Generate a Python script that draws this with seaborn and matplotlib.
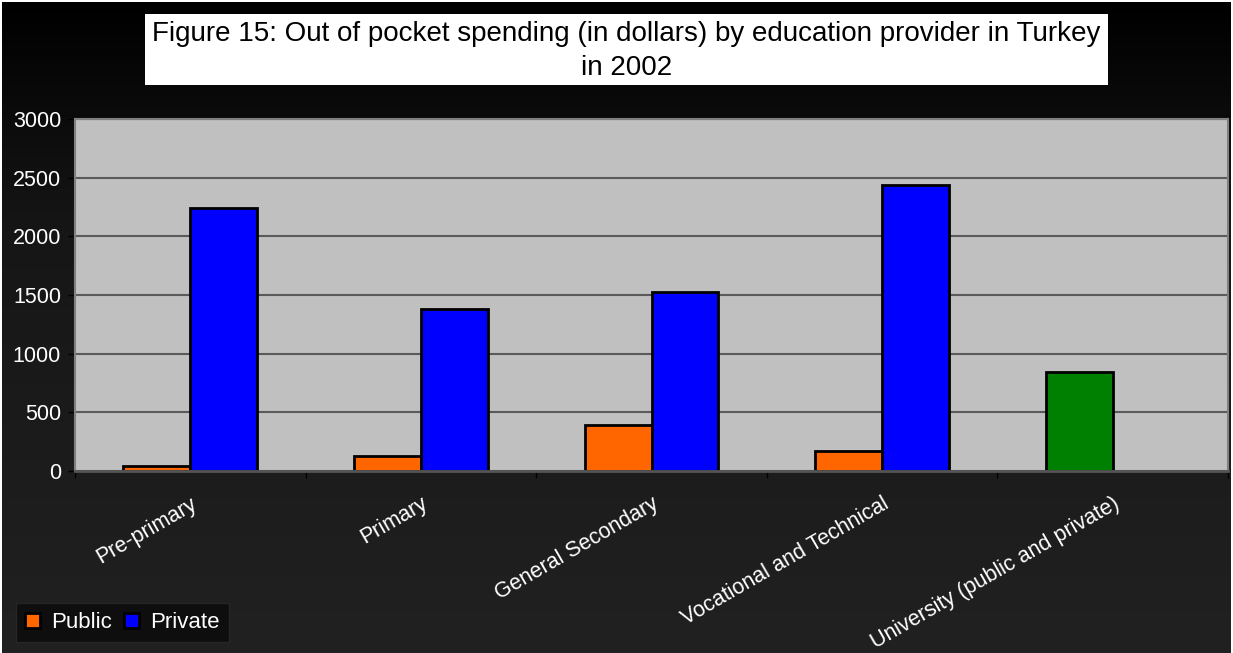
import numpy as np
import pandas as pd
import matplotlib
matplotlib.use("Agg")
import matplotlib.pyplot as plt
import seaborn as sns
from matplotlib.patches import Rectangle, Patch
from matplotlib.colors import LinearSegmentedColormap

categories = ["Pre-primary", "Primary", "General Secondary",
              "Vocational and Technical", "University (public and private)"]
public_vals = [40, 128, 393, 170, 841]
private_vals = [2240, 1381, 1525, 2437, np.nan]
series_names = ["Public", "Private"]
yticks = [0, 500, 1000, 1500, 2000, 2500, 3000]
title_text = "Figure 15: Out of pocket spending (in dollars) by education provider in Turkey\nin 2002"

colors = {"Public": "#FF6600", "Private": "#0000FF"}
university_color = "#008000"

df = pd.DataFrame({
    "category": categories * 2,
    "series": [series_names[0]] * len(categories) + [series_names[1]] * len(categories),
    "value": public_vals + private_vals,
})

sns.set_theme(style="white")
plt.rcParams["font.family"] = ["Liberation Sans", "DejaVu Sans"]

W, H = 1233, 653
fig = plt.figure(figsize=(W / 100, H / 100), dpi=100, facecolor="white")

# background gradient
bg = fig.add_axes([2 / W, 0, 1 - 4 / W, 1 - 2 / H])
grad = np.linspace(0, 1, 256).reshape(-1, 1)
cmap = LinearSegmentedColormap.from_list("bg", [(0, "#000000"), (0.35, "#161616"), (1, "#212121")])
bg.imshow(grad, aspect="auto", cmap=cmap, extent=[0, 1, 0, 1])
bg.set_axis_off()

ax = fig.add_axes([75 / W, 1 - 471 / H, (1228 - 75) / W, (471 - 119) / H])
ax.set_facecolor("#C0C0C0")

sns.barplot(data=df, x="category", y="value", hue="series", order=categories,
            hue_order=series_names, palette=colors, width=0.58, gap=0,
            edgecolor="black", linewidth=2, saturation=1, ax=ax, legend=True)

for p in ax.patches:
    if abs(p.get_height() - public_vals[-1]) < 1e-6:
        p.set_facecolor(university_color)

ax.set_ylim(0, 3000)
ax.set_xlim(-0.5, len(categories) - 0.5)
ax.set_yticks(yticks)
ax.set_yticklabels([str(v) for v in yticks], color="white", fontsize=15.5)
ax.yaxis.grid(True, color="#5a5a5a", linewidth=1.5)
ax.set_axisbelow(True)
ax.set_xlabel("")
ax.set_ylabel("")
ax.tick_params(axis="y", left=True, length=5, width=1, color="black", pad=5)
ax.set_xticks(range(len(categories)))
ax.set_xticklabels(categories, rotation=30, ha="right", rotation_mode="anchor",
                   color="white", fontsize=15.5)
ax.tick_params(axis="x", bottom=False, length=0, pad=16)
ax.set_xticks(np.arange(-0.5, len(categories), 1.0), minor=True)
ax.tick_params(axis="x", which="minor", bottom=True, length=5, width=1, color="black")
for s in ["left", "top", "right"]:
    ax.spines[s].set_color("#808080")
    ax.spines[s].set_linewidth(1.5)
ax.spines["bottom"].set_color("#555555")
ax.spines["bottom"].set_linewidth(2)

# legend
ax.get_legend().remove()
handles = [Patch(facecolor=colors[n], edgecolor="black", linewidth=2) for n in series_names]
leg = fig.legend(handles, series_names, loc="lower left",
                 bbox_to_anchor=(16 / W, 1 - 642 / H), ncol=2, frameon=True,
                 fontsize=16, handlelength=0.7, handleheight=0.7, handletextpad=0.5,
                 columnspacing=0.5, borderpad=0.4, fancybox=False,
                 borderaxespad=0)
leg.get_frame().set_facecolor("#0a0a0a")
leg.get_frame().set_edgecolor("#2a2a2a")
for t in leg.get_texts():
    t.set_color("white")

# title box
fig.patches.append(Rectangle((145 / W, 1 - 85 / H), (1108 - 145) / W, (85 - 14) / H,
                             transform=fig.transFigure, facecolor="white",
                             edgecolor="none", zorder=1))
fig.text(626.5 / W, 1 - 51 / H, title_text, ha="center", va="center",
         fontsize=20, color="black", linespacing=1.4, zorder=2)

fig.savefig("out.png", dpi=100, facecolor=fig.get_facecolor())
